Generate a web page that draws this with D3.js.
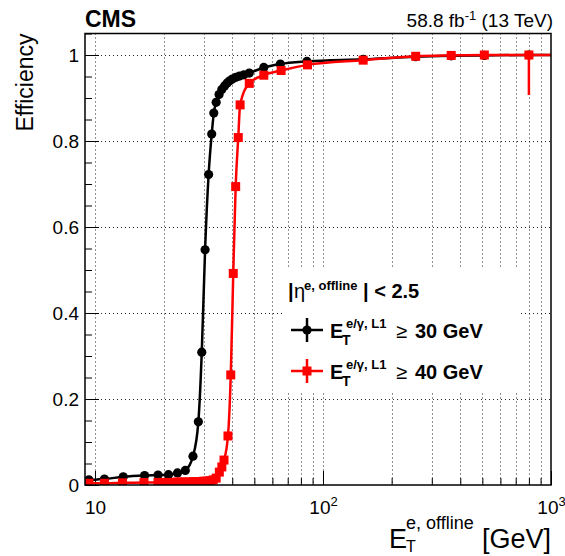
<!DOCTYPE html>
<html>
<head>
<meta charset="utf-8">
<script src="https://cdn.jsdelivr.net/npm/d3@7"></script>
<style>
    body { margin: 0; background: #fff; }
    svg { display: block; font-family: 'Liberation Sans', Arial, sans-serif; }
</style>
</head>
<body>
<svg id="chart" width="565" height="556"></svg>
<script>
// L1 e/gamma efficiency vs offline ET, two thresholds
var blackEt  = [9.4, 11, 13.3, 16.5, 18.9, 21, 23, 24.9, 26.9, 28.4, 29.4, 30.4, 31.5, 32.5,
                33.2, 34, 35, 36, 37, 38, 39, 40, 41.5, 43, 45, 47.5, 55, 65, 85, 150, 255, 365, 510, 800];
var blackEff = [0.012, 0.014, 0.019, 0.022, 0.023, 0.024, 0.028, 0.034, 0.067, 0.147, 0.309, 0.547, 0.722, 0.816,
                0.865, 0.89, 0.908, 0.92, 0.928, 0.935, 0.94, 0.944, 0.948, 0.951, 0.954, 0.958, 0.971, 0.979, 0.985, 0.99, 0.996, 0.998, 0.999, 1.0];

var redEt  = [9.4, 11, 13.2, 16.4, 18.9, 20, 21, 22, 23, 24, 25, 26, 27, 28, 29, 30, 31, 32, 33, 34,
              35.1, 36, 36.8, 38.3, 39.4, 40.4, 41.4, 42.5, 43.3, 47.5, 55, 65.5, 85.5, 150, 255, 365, 510, 800];
var redEff = [0.004, 0.004, 0.005, 0.006, 0.006, 0.006, 0.006, 0.006, 0.007, 0.007, 0.007, 0.007, 0.008, 0.008, 0.008, 0.009, 0.009, 0.01, 0.012, 0.016,
              0.03, 0.042, 0.058, 0.114, 0.256, 0.492, 0.694, 0.808, 0.884, 0.934, 0.953, 0.964, 0.977, 0.988, 0.997, 0.999, 1.0, 1.0];
var redErrLow = [0, 0, 0, 0, 0, 0, 0, 0, 0, 0, 0, 0, 0, 0, 0, 0, 0, 0, 0, 0,
                 0, 0, 0, 0, 0, 0, 0, 0, 0, 0, 0, 0, 0, 0, 0, 0, 0, 0.093];

var xMajorTicks = [10, 100, 1000];
var xTickBase = ['10', '10', '10'];
var xTickExp = ['', '2', '3'];
var yMajorTicks = [0, 0.2, 0.4, 0.6, 0.8, 1];

var font = "'Liberation Sans', Arial, sans-serif";
var svg = d3.select('#chart');

var plotL = 85, plotR = 551, plotT = 33.5, plotB = 485;

var x = d3.scaleLog().domain([9.04, 1000]).range([plotL, plotR]);
var y = d3.scaleLinear().domain([0, 1.05]).range([plotB, plotT]);

svg.append('defs').append('clipPath').attr('id', 'plotClip')
    .append('rect')
        .attr('x', plotL).attr('y', plotT)
        .attr('width', plotR - plotL).attr('height', plotB - plotT);

// grid
var grid = svg.append('g')
    .attr('stroke', '#222')
    .attr('stroke-width', 1)
    .attr('stroke-dasharray', '1,3');

grid.selectAll('.vgrid')
    .data(x.ticks().filter(function(d) { return d < 1000; }))
    .enter().append('line')
        .attr('x1', function(d) { return Math.round(x(d)) + 0.5; })
        .attr('x2', function(d) { return Math.round(x(d)) + 0.5; })
        .attr('y1', plotT)
        .attr('y2', plotB);

grid.selectAll('.hgrid')
    .data(yMajorTicks.filter(function(d) { return d > 0; }))
    .enter().append('line')
        .attr('x1', plotL)
        .attr('x2', plotR)
        .attr('y1', function(d) { return Math.round(y(d)) + 0.5; })
        .attr('y2', function(d) { return Math.round(y(d)) + 0.5; });

// axes, ticks drawn inward
svg.append('g')
    .attr('transform', 'translate(0,' + plotB + ')')
    .call(d3.axisBottom(x).tickValues(x.ticks()).tickSize(-7).tickFormat(''));

var xMajor = svg.append('g')
    .attr('transform', 'translate(0,' + plotB + ')')
    .call(d3.axisBottom(x).tickValues(xMajorTicks).tickSize(-14).tickPadding(16).tickFormat(''));

xMajor.selectAll('.tick text').each(function(d, i) {
    var t = d3.select(this)
        .attr('font-family', font)
        .attr('font-size', 19)
        .attr('fill', '#000');
    t.append('tspan').text(xTickBase[i]);
    if (xTickExp[i]) {
        t.append('tspan')
            .attr('dy', -8)
            .attr('font-size', 13)
            .text(xTickExp[i]);
    }
});

svg.append('g')
    .attr('transform', 'translate(' + plotL + ',0)')
    .call(d3.axisLeft(y).tickValues(d3.range(0, 1.0501, 0.05)).tickSize(-7).tickFormat(''));

var yMajor = svg.append('g')
    .attr('transform', 'translate(' + plotL + ',0)')
    .call(d3.axisLeft(y).tickValues(yMajorTicks).tickSize(-14).tickPadding(6).tickFormat(d3.format('~g')));

yMajor.selectAll('.tick text')
    .attr('font-family', font)
    .attr('font-size', 19)
    .attr('fill', '#000');

svg.selectAll('.domain').remove();
svg.selectAll('.tick line').attr('stroke', '#000').attr('stroke-width', 1);

// series
var plot = svg.append('g').attr('clip-path', 'url(#plotClip)');

var line = d3.line()
    .x(function(d) { return x(d[0]); })
    .y(function(d) { return y(d[1]); })
    .curve(d3.curveMonotoneX);

var blackPts = d3.zip(blackEt, blackEff);
var redPts = d3.zip(redEt, redEff, redErrLow);

// fitted curve runs over the whole frame, flat beyond the outer points
function fitPath(pts) {
    var dom = x.domain();
    return [[dom[0], pts[0][1]]].concat(pts, [[dom[1], pts[pts.length - 1][1]]]);
}

plot.append('path')
    .datum(fitPath(blackPts))
    .attr('d', line)
    .attr('fill', 'none')
    .attr('stroke', '#000')
    .attr('stroke-width', 2.5);

plot.selectAll('.bpt')
    .data(blackPts)
    .enter().append('circle')
        .attr('cx', function(d) { return x(d[0]); })
        .attr('cy', function(d) { return y(d[1]); })
        .attr('r', 4.6)
        .attr('fill', '#000');

plot.append('path')
    .datum(fitPath(redPts))
    .attr('d', line)
    .attr('fill', 'none')
    .attr('stroke', '#ff0000')
    .attr('stroke-width', 2.5);

plot.selectAll('.rerr')
    .data(redPts.filter(function(d) { return d[2] > 0; }))
    .enter().append('line')
        .attr('x1', function(d) { return x(d[0]); })
        .attr('x2', function(d) { return x(d[0]); })
        .attr('y1', function(d) { return y(d[1]); })
        .attr('y2', function(d) { return y(d[1] - d[2]); })
        .attr('stroke', '#ff0000')
        .attr('stroke-width', 2.5);

plot.selectAll('.rpt')
    .data(redPts)
    .enter().append('rect')
        .attr('x', function(d) { return x(d[0]) - 4.5; })
        .attr('y', function(d) { return y(d[1]) - 4.5; })
        .attr('width', 9)
        .attr('height', 9)
        .attr('fill', '#ff0000');

// frame
svg.append('rect')
    .attr('x', plotL).attr('y', plotT)
    .attr('width', plotR - plotL).attr('height', plotB - plotT)
    .attr('fill', 'none')
    .attr('stroke', '#000')
    .attr('stroke-width', 1.5);

function addText(px, py, txt, size, weight, anchor) {
    return svg.append('text')
        .attr('x', px)
        .attr('y', py)
        .attr('font-family', font)
        .attr('font-size', size)
        .attr('font-weight', weight || 'normal')
        .attr('text-anchor', anchor || 'start')
        .attr('fill', '#000')
        .text(txt);
}

// header
addText(plotL, 27, 'CMS', 23, 'bold');
var lumi = addText(plotR + 2, 27, '', 19, 'normal', 'end');
lumi.append('tspan').attr('font-size', 19).text('58.8 fb');
lumi.append('tspan').attr('dy', -7).attr('font-size', 13).text('-1');
lumi.append('tspan').attr('dy', 7).attr('font-size', 19).text(' (13 TeV)');

// axis titles
svg.append('text')
    .attr('transform', 'translate(33,' + plotT + ') rotate(-90)')
    .attr('text-anchor', 'end')
    .attr('font-family', font)
    .attr('font-size', 23)
    .attr('fill', '#000')
    .text('Efficiency');

addText(plotR, 548, '[GeV]', 27, 'normal', 'end');
addText(389, 548, 'E', 27);
addText(406, 552, 'T', 16);
addText(406, 529, 'e, offline', 18);

// legend
svg.append('rect')
    .attr('x', 283).attr('y', 267)
    .attr('width', 235).attr('height', 125)
    .attr('fill', '#fff');

addText(288, 298, '|', 20, 'bold');
addText(294, 298, '\u03b7', 20, 'normal');
addText(304, 290, 'e, offline', 13, 'bold');
addText(363, 298, '| < 2.5', 20, 'bold');

var legendRows = [
    { cy: 330, base: 337.5, color: '#000', shape: 'circle', label: '30 GeV' },
    { cy: 371, base: 378.5, color: '#ff0000', shape: 'square', label: '40 GeV' }
];

legendRows.forEach(function(row) {
    svg.append('line')
        .attr('x1', 291).attr('x2', 323)
        .attr('y1', row.cy).attr('y2', row.cy)
        .attr('stroke', row.color).attr('stroke-width', 2.5);
    svg.append('line')
        .attr('x1', 307).attr('x2', 307)
        .attr('y1', row.cy - 12).attr('y2', row.cy + 12)
        .attr('stroke', row.color).attr('stroke-width', 2.5);
    if (row.shape === 'circle') {
        svg.append('circle').attr('cx', 307).attr('cy', row.cy).attr('r', 4.6).attr('fill', row.color);
    } else {
        svg.append('rect').attr('x', 302.5).attr('y', row.cy - 4.5).attr('width', 9).attr('height', 9).attr('fill', row.color);
    }
    addText(330, row.base, 'E', 20, 'bold');
    addText(342, row.base + 7, 'T', 14, 'bold');
    addText(346, row.base - 10, 'e/\u03b3, L1', 13, 'bold');
    addText(396, row.base, '\u2265', 20, 'normal');
    addText(415, row.base, row.label, 20, 'bold');
});
</script>
</body>
</html>
